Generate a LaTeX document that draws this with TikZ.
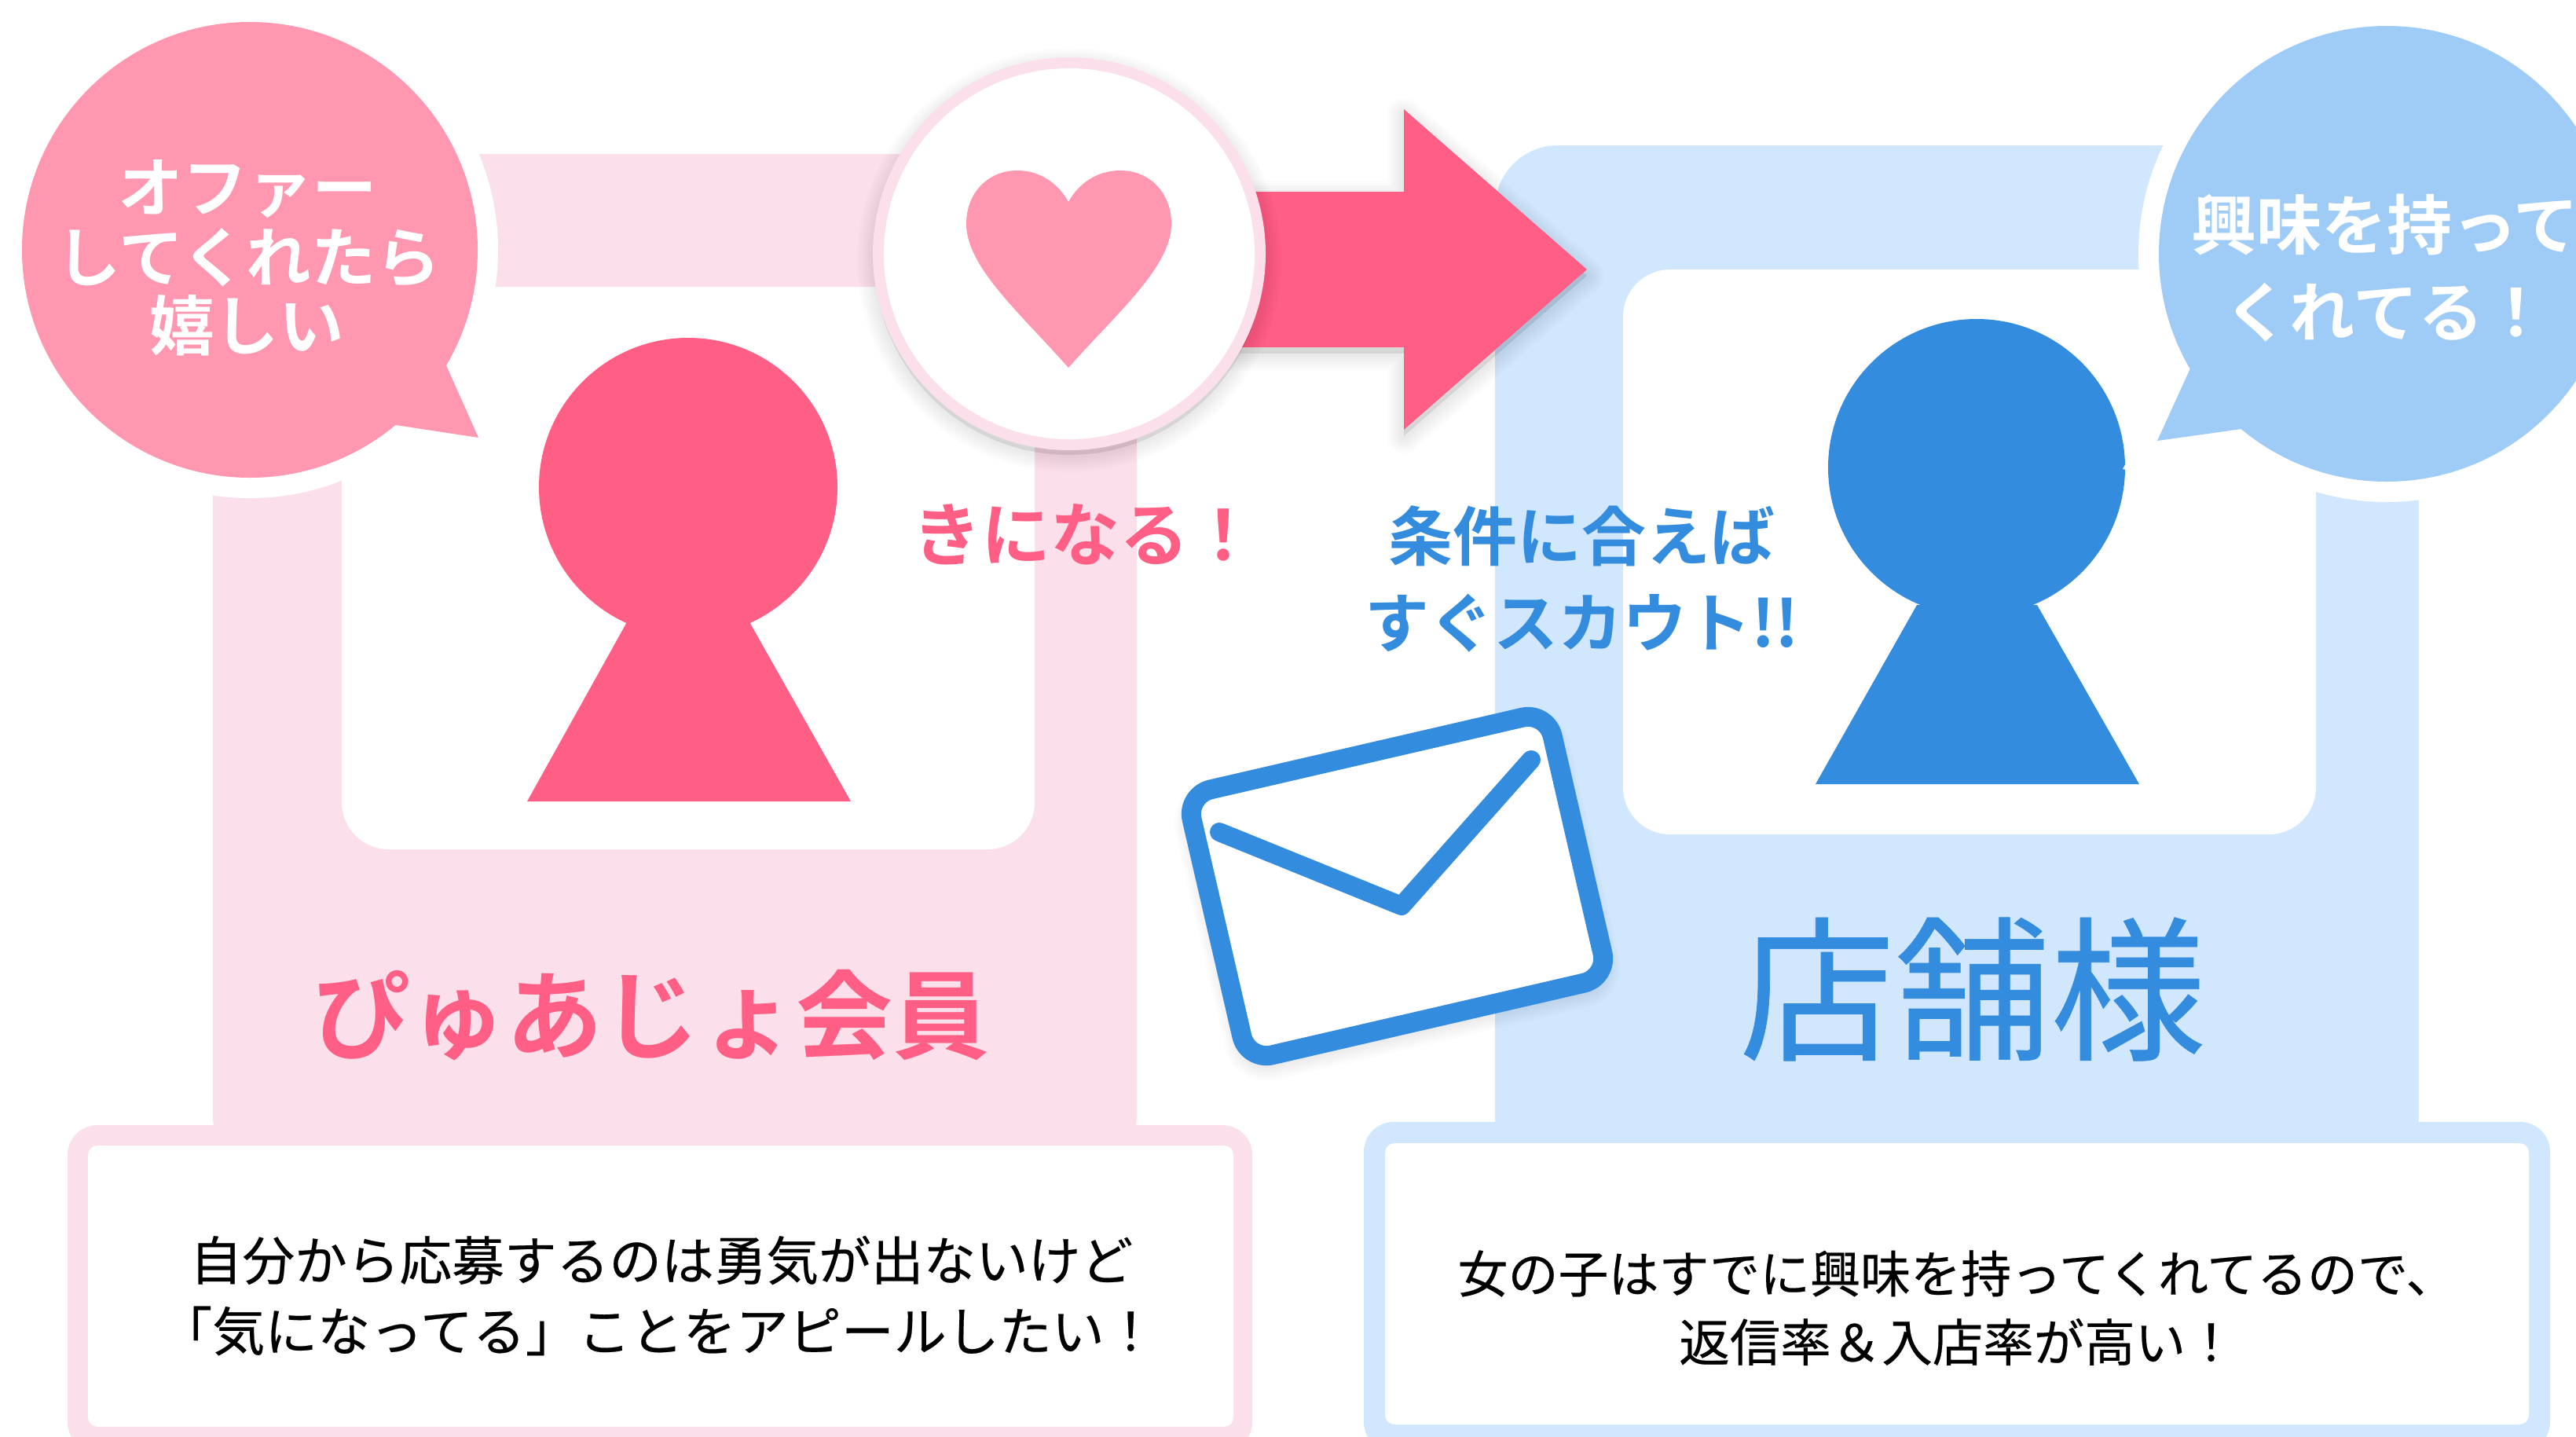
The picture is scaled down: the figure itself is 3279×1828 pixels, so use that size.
\documentclass[tikz,border=0pt]{standalone}
\usepackage{fontspec}
\setmainfont{Noto Sans CJK JP}[FakeBold=0.35]
\newfontfamily\jpb{Noto Sans CJK JP Bold}
\definecolor{palepink}{HTML}{FBDFEB}
\definecolor{paleblue}{HTML}{D0E7FE}
\definecolor{bubpink}{HTML}{FF97B0}
\definecolor{bubblue}{HTML}{9FCBF7}
\definecolor{hotpink}{HTML}{FF5E85}
\definecolor{deepblue}{HTML}{348CDF}
\newcommand{\fs}[1]{\fontsize{\dimexpr #1pt*2845/10000\relax}{\dimexpr #1pt*2845/10000\relax}\selectfont}
\newcommand{\softshadow}[3]{%
  \foreach \w in {44,38,32,26,20,14,8}{
    \draw[line width=\w*0.1mm,black,opacity=0.011,line join=round,fill=black,fill opacity=0.011,xshift=#1*0.1mm,yshift=-#2*0.1mm] #3;}
}
\tikzset{
  txt/.style={inner sep=0pt,align=center,anchor=center},
}
\begin{document}
\begin{tikzpicture}[x=0.1mm,y=-0.1mm]
\useasboundingbox (0,0) rectangle (3279,1828);
\clip (0,0) rectangle (3279,1828);
% pink frame
\fill[palepink,rounded corners=8mm] (271,196) rectangle (1447,1500);
\fill[white,rounded corners=6mm] (435,365) rectangle (1317,1081);
% blue frame
\fill[paleblue,rounded corners=8mm] (1903,185) rectangle (3079,1500);
\fill[white,rounded corners=6mm] (2066,343) rectangle (2948,1062);
% bottom boxes
\fill[palepink,rounded corners=3.8mm] (86,1432) rectangle (1594,1848);
\fill[white,rounded corners=1.2mm] (112,1458) rectangle (1570,1816);
\fill[paleblue,rounded corners=3.8mm] (1736,1428) rectangle (3246,1848);
\fill[white,rounded corners=1.2mm] (1763,1455) rectangle (3219,1813);
% bubbles
\fill[white] (318,318) circle (316);
\fill[white] (3038,323) circle (316);
\fill[bubpink] (318,318) circle (290);
\fill[bubpink] (568,465) -- (609,557) -- (504,541) -- (400,500) -- cycle;
\fill[bubblue] (3038,323) circle (290);
\fill[bubblue] (2788,469) -- (2746,561) -- (2853,546) -- (2950,500) -- cycle;
% persons
\fill[hotpink] (876,620) circle (190);
\fill[hotpink] (799,790) -- (671,1020) -- (1083,1020) -- (953,790) -- cycle;
\fill[deepblue] (2516,595) circle (189);
\fill[deepblue] (2440,770) -- (2311,998) -- (2723,998) -- (2593,770) -- cycle;
\fill[white] (2708,586) -- (2702,597) -- (2708,598) -- cycle;
% arrow
\def\arrowpath{(1500,244) -- (1787,244) -- (1787,139) -- (2020,343) -- (1787,547) -- (1787,442) -- (1500,442) -- cycle}
\softshadow{0}{8}{\arrowpath}
\fill[hotpink] \arrowpath;
% heart circle
\softshadow{0}{8}{(1361,323) circle (248)}
\fill[palepink] (1361,323) circle (250);
\fill[white] (1361,323) circle (236);
\fill[bubpink] (1360,468) .. controls (1300,400) and (1230,340) .. (1230,285)
  .. controls (1230,245) and (1258,217) .. (1295,217)
  .. controls (1325,217) and (1348,235) .. (1360,257)
  .. controls (1372,235) and (1395,217) .. (1426,217)
  .. controls (1463,217) and (1491,245) .. (1491,285)
  .. controls (1491,340) and (1420,400) .. (1360,468) -- cycle;
% envelope
\def\envpath{[rounded corners=3.2mm] (1510,1012) -- (1969,906) -- (2047,1244) -- (1588,1350) -- cycle}
\softshadow{0}{10}{\envpath}
\draw[deepblue,line width=2.5mm,fill=white,rounded corners=3.2mm] (1510,1012) -- (1969,906) -- (2047,1244) -- (1588,1350) -- cycle;
\draw[deepblue,line width=2.4mm,line cap=round,line join=round] (1552,1059) -- (1784,1153) -- (1949,967);
% texts
\node[txt,white,font=\jpb\fs{82.5}] (b1) at (315,240) {オファー};
\node[txt,white,font=\jpb\fs{82.5}] (b2) at (316,328) {してくれたら};
\node[txt,white,font=\jpb\fs{82.5}] (b3) at (314,414) {嬉しい};
\node[txt,white,font=\jpb\fs{83}] (c1) at (3036,286) {興味を持って};
\node[txt,white,font=\jpb\fs{83}] (c2) at (3038,398) {くれてる！};
\node[txt,hotpink,font=\jpb\fs{88}] (k) at (1381,680) {きになる！};
\node[txt,deepblue,font=\jpb\fs{82}] (j1) at (2013,682) {条件に合えば};
\node[txt,deepblue,font=\jpb\fs{82}] (j2) at (2014,793) {すぐスカウト!!};
\node[txt,hotpink,font=\jpb\fs{123}] (n1) at (829,1292) {ぴゅあじょ会員};
\node[txt,deepblue,font=\fs{198}] (n2) at (2511,1259) {店舗様};
\node[txt,font=\fs{66.7}] (p1) at (842,1604) {自分から応募するのは勇気が出ないけど};
\node[txt,font=\fs{67}] (p2) at (838,1694) {「気になってる」ことをアピールしたい！};
\node[txt,font=\fs{64}] (s1) at (2491,1621) {女の子はすでに興味を持ってくれてるので、};
\node[txt,font=\fs{64.5}] (s2) at (2492,1708) {返信率＆入店率が高い！};
\end{tikzpicture}
\end{document}
